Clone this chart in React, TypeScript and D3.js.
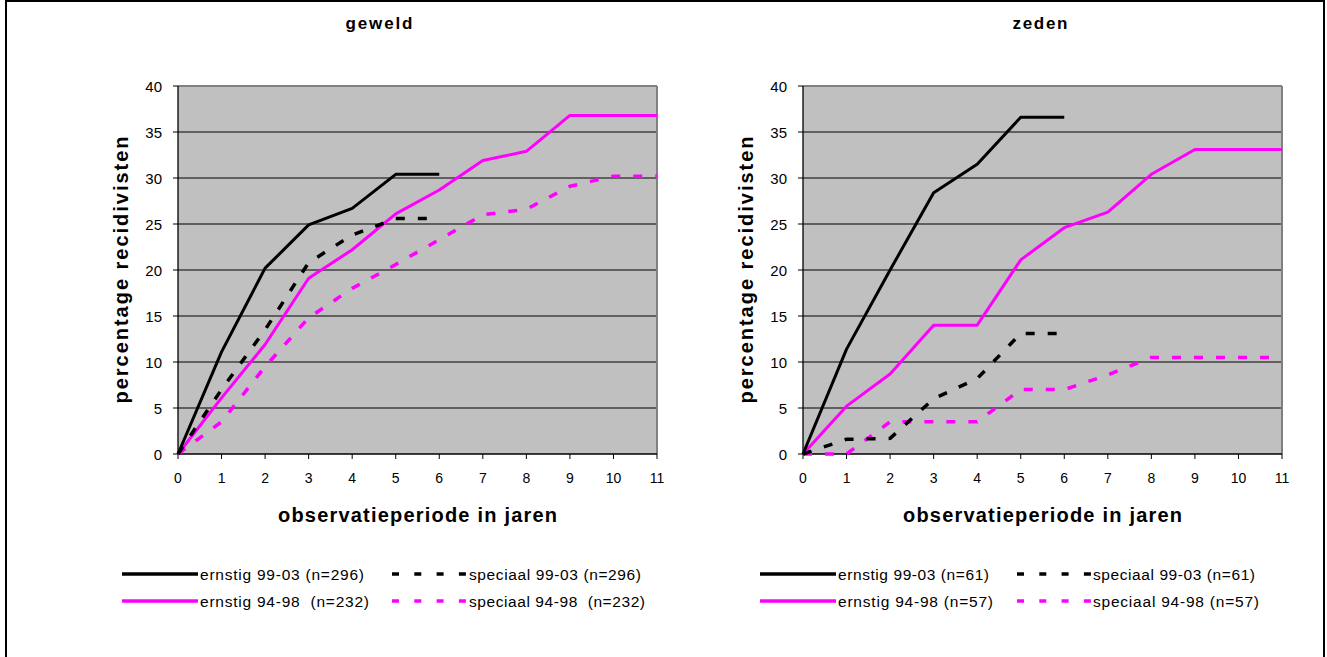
import React from "react";
import * as d3 from "d3";

const years = [0, 1, 2, 3, 4, 5, 6, 7, 8, 9, 10, 11];
const yTicks = [0, 5, 10, 15, 20, 25, 30, 35, 40];

// geweld
const gewErnstig9903 = [0, 11.1, 20.2, 24.9, 26.7, 30.4, 30.4];
const gewSpeciaal9903 = [0, 7.0, 13.5, 20.8, 23.8, 25.6, 25.6];
const gewErnstig9498 = [0, 6.1, 11.9, 19.1, 22.2, 26.1, 28.7, 31.9, 32.9, 36.8, 36.8, 36.8];
const gewSpeciaal9498 = [0, 3.5, 9.5, 14.8, 18.0, 20.6, 23.3, 26.0, 26.6, 29.1, 30.2, 30.2];

// zeden
const zedErnstig9903 = [0, 11.4, 20.0, 28.4, 31.5, 36.6, 36.6];
const zedSpeciaal9903 = [0, 1.6, 1.7, 6.0, 8.2, 13.1, 13.1];
const zedErnstig9498 = [0, 5.2, 8.7, 14.0, 14.0, 21.1, 24.6, 26.3, 30.4, 33.1, 33.1, 33.1];
const zedSpeciaal9498 = [0, 0, 3.5, 3.5, 3.5, 7.0, 7.0, 8.6, 10.5, 10.5, 10.5, 10.5];

const gewLegend = [
  "ernstig 99-03 (n=296)",
  "speciaal 99-03 (n=296)",
  "ernstig 94-98\u00a0\u00a0(n=232)",
  "speciaal 94-98\u00a0\u00a0(n=232)",
];
const zedLegend = [
  "ernstig 99-03 (n=61)",
  "speciaal 99-03 (n=61)",
  "ernstig 94-98 (n=57)",
  "speciaal 94-98 (n=57)",
];

const BLACK = "#000000";
const MAGENTA = "#FF00FF";

type Series = { values: number[]; color: string; dashed: boolean };

type PanelProps = {
  x0: number;
  x1: number;
  title: string;
  titleX: number;
  titleLen: number;
  series: Series[];
  legend: string[];
  legendX: { solid: number; solidEnd: number; dash: number; dashEnd: number };
  legendLens: number[];
};

const TOP = 86;
const BOTTOM = 454;
const FONT = "'Liberation Sans', Arial, sans-serif";

function Panel(p: PanelProps) {
  const x = d3.scaleLinear().domain([0, 11]).range([p.x0, p.x1]);
  const y = d3.scaleLinear().domain([0, 40]).range([BOTTOM, TOP]);
  const line = d3
    .line<number>()
    .x((_, i) => x(years[i]))
    .y((d) => y(d));
  const cx = (p.x0 + p.x1) / 2;
  const midY = (TOP + BOTTOM) / 2;
  const legendRows = [574, 601];
  const legendItems = [
    { color: BLACK, dashed: false, row: 0, text: p.legend[0], len: p.legendLens[0] },
    { color: BLACK, dashed: true, row: 0, text: p.legend[1], len: p.legendLens[1] },
    { color: MAGENTA, dashed: false, row: 1, text: p.legend[2], len: p.legendLens[2] },
    { color: MAGENTA, dashed: true, row: 1, text: p.legend[3], len: p.legendLens[3] },
  ];
  return (
    <g>
      <text
        x={p.titleX}
        y={29}
        textAnchor="middle"
        fontFamily={FONT}
        fontWeight="bold"
        fontSize={17}
        textLength={p.titleLen}
        lengthAdjust="spacing"
      >
        {p.title}
      </text>
      <rect x={p.x0} y={TOP} width={p.x1 - p.x0} height={BOTTOM - TOP} fill="#C0C0C0" />
      {yTicks.slice(1, -1).map((t) => (
        <line key={t} x1={p.x0} x2={p.x1} y1={y(t)} y2={y(t)} stroke="#000" strokeWidth={1} />
      ))}
      <line x1={p.x0} x2={p.x1} y1={TOP} y2={TOP} stroke="#808080" strokeWidth={2} />
      <line x1={p.x1} x2={p.x1} y1={TOP} y2={BOTTOM} stroke="#808080" strokeWidth={2} />
      <line x1={p.x0} x2={p.x0} y1={TOP} y2={BOTTOM} stroke="#000" strokeWidth={1.3} />
      <line x1={p.x0} x2={p.x1} y1={BOTTOM} y2={BOTTOM} stroke="#000" strokeWidth={1.3} />
      {yTicks.map((t) => (
        <g key={t}>
          <line x1={p.x0 - 5} x2={p.x0} y1={y(t)} y2={y(t)} stroke="#000" strokeWidth={1} />
          <text x={p.x0 - 16} y={y(t) + 5.5} textAnchor="end" fontFamily={FONT} fontSize={15}>
            {t}
          </text>
        </g>
      ))}
      {years.map((t) => (
        <g key={t}>
          <line x1={x(t)} x2={x(t)} y1={BOTTOM} y2={BOTTOM + 5} stroke="#000" strokeWidth={1} />
          <text x={x(t)} y={BOTTOM + 29} textAnchor="middle" fontFamily={FONT} fontSize={14}>
            {t}
          </text>
        </g>
      ))}
      <text
        x={cx}
        y={522}
        textAnchor="middle"
        fontFamily={FONT}
        fontWeight="bold"
        fontSize={20}
        textLength={279}
        lengthAdjust="spacing"
      >
        observatieperiode in jaren
      </text>
      <text
        transform={`translate(${p.x0 - 50},${midY}) rotate(-90)`}
        textAnchor="middle"
        fontFamily={FONT}
        fontWeight="bold"
        fontSize={20}
        textLength={267}
        lengthAdjust="spacing"
      >
        percentage recidivisten
      </text>
      {p.series.map((s, i) => (
        <path
          key={i}
          d={line(s.values) || ""}
          fill="none"
          stroke={s.color}
          strokeWidth={s.dashed ? 3.5 : 3}
          strokeDasharray={s.dashed ? "9,13" : undefined}
          strokeLinejoin="round"
        />
      ))}
      {legendItems.map((it, i) => {
        const sx = it.dashed ? p.legendX.dash : p.legendX.solid;
        const ex = it.dashed ? p.legendX.dashEnd : p.legendX.solidEnd;
        const ly = legendRows[it.row];
        return (
          <g key={i}>
            <line
              x1={sx}
              x2={ex}
              y1={ly}
              y2={ly}
              stroke={it.color}
              strokeWidth={3.5}
              strokeDasharray={it.dashed ? "7,15.3" : undefined}
            />
            <text
              x={ex + 2}
              y={ly + 5.5}
              fontFamily={FONT}
              fontSize={15.5}
              textLength={it.len}
              lengthAdjust="spacing"
            >
              {it.text}
            </text>
          </g>
        );
      })}
    </g>
  );
}

export default function App() {
  return (
    <div style={{ position: "absolute", left: 0, top: 0 }}>
      <svg width={1327} height={657} style={{ display: "block", background: "#fff" }}>
        <rect x={0} y={0} width={1327} height={657} fill="#fff" />
        <path d="M6,700 V1 H1324 V700" fill="none" stroke="#000" strokeWidth={2} />
        <Panel
          x0={178}
          x1={657}
          title="geweld"
          titleX={379}
          titleLen={67}
          series={[
            { values: gewSpeciaal9498, color: MAGENTA, dashed: true },
            { values: gewErnstig9498, color: MAGENTA, dashed: false },
            { values: gewSpeciaal9903, color: BLACK, dashed: true },
            { values: gewErnstig9903, color: BLACK, dashed: false },
          ]}
          legend={gewLegend}
          legendX={{ solid: 122, solidEnd: 198, dash: 392, dashEnd: 467 }}
          legendLens={[164, 172, 169, 176]}
        />
        <Panel
          x0={803}
          x1={1282}
          title="zeden"
          titleX={1040}
          titleLen={55}
          series={[
            { values: zedSpeciaal9498, color: MAGENTA, dashed: true },
            { values: zedErnstig9498, color: MAGENTA, dashed: false },
            { values: zedSpeciaal9903, color: BLACK, dashed: true },
            { values: zedErnstig9903, color: BLACK, dashed: false },
          ]}
          legend={zedLegend}
          legendX={{ solid: 760, solidEnd: 836, dash: 1017, dashEnd: 1091 }}
          legendLens={[151, 162, 155, 166]}
        />
      </svg>
    </div>
  );
}
